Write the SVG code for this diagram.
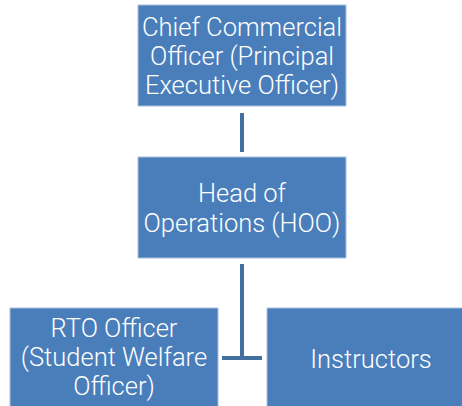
<svg xmlns="http://www.w3.org/2000/svg" width="462" height="406" viewBox="0 0 462 406">
<style>
.box{fill:#4a7ebb;stroke:#a9c0e0;stroke-width:1}
.t{fill:#ffffff;font-family:Roboto,"Noto Sans",sans-serif;font-size:25.5px;font-weight:300;text-anchor:middle}
.c{stroke:#41719c;stroke-width:4;fill:none}
</style>
<rect width="462" height="406" fill="#ffffff"/>
<g id="connectors">
<line class="c" x1="242" y1="113" x2="242" y2="152"/>
<line class="c" x1="242" y1="264" x2="242" y2="358"/>
<line class="c" x1="222" y1="358" x2="262" y2="358"/>
</g>
<g id="cco">
<rect class="box" x="138" y="5" width="208" height="101"/>
<text class="t" x="242" y="36">Chief Commercial</text>
<text class="t" x="242" y="65">Officer (Principal</text>
<text class="t" x="242" y="94">Executive Officer)</text>
</g>
<g id="hoo">
<rect class="box" x="138" y="157" width="208" height="101"/>
<text class="t" x="242" y="202">Head of</text>
<text class="t" x="242" y="232">Operations (HOO)</text>
</g>
<g id="rto">
<rect class="box" x="10" y="308" width="208" height="101"/>
<text class="t" x="114" y="337">RTO Officer</text>
<text class="t" x="114" y="366">(Student Welfare</text>
<text class="t" x="114" y="395">Officer)</text>
</g>
<g id="instructors">
<rect class="box" x="267" y="308" width="208" height="101"/>
<text class="t" x="371" y="368">Instructors</text>
</g>
</svg>
